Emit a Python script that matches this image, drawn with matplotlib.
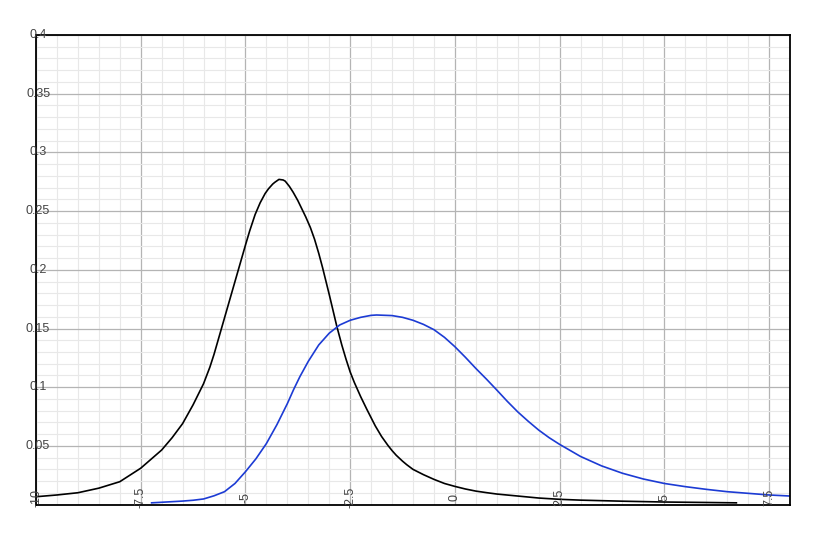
import matplotlib
matplotlib.use("Agg")
import matplotlib.pyplot as plt
from matplotlib.ticker import MultipleLocator
from matplotlib.transforms import blended_transform_factory, offset_copy

# values
black_x = [-10, -9.5, -9, -8.5, -8, -7.5, -7, -6.75, -6.5, -6.25, -6, -5.85,
           -5.75, -5.5, -5.25, -5, -4.9, -4.77, -4.65, -4.53, -4.45, -4.35,
           -4.3, -4.2, -4.1, -4.05, -3.95, -3.86, -3.75, -3.56, -3.45, -3.35,
           -3.25, -3.16, -3, -2.9, -2.82, -2.7, -2.6, -2.5, -2.4, -2.25, -2.1,
           -2, -1.9, -1.75, -1.6, -1.5, -1.4, -1.25, -1.15, -1, -0.75, -0.5,
           -0.25, 0, 0.25, 0.5, 0.75, 1, 1.5, 2, 2.5, 3, 4, 5, 6, 6.72]
black_y = [0.0067, 0.0082, 0.0101, 0.014, 0.0195, 0.031, 0.0465, 0.057, 0.069,
           0.085, 0.103, 0.117, 0.128, 0.159, 0.190, 0.221, 0.233, 0.247, 0.257,
           0.265, 0.269, 0.273, 0.2745, 0.277, 0.2765, 0.2755, 0.271, 0.266,
           0.259, 0.245, 0.236, 0.226, 0.214, 0.202, 0.179, 0.164, 0.152,
           0.136, 0.124, 0.113, 0.104, 0.092, 0.081, 0.074, 0.067, 0.058,
           0.0505, 0.046, 0.042, 0.037, 0.034, 0.030, 0.0255, 0.0215, 0.018,
           0.0155, 0.0133, 0.0115, 0.0102, 0.009, 0.0073, 0.0056, 0.0045,
           0.0038, 0.0029, 0.0022, 0.0018, 0.0015]

blue_x = [-7.24, -6.5, -6.25, -6, -5.75, -5.5, -5.25, -5, -4.75, -4.5, -4.25,
          -4, -3.85, -3.7, -3.5, -3.25, -3, -2.75, -2.5, -2.25, -2, -1.87,
          -1.5, -1.25, -1, -0.75, -0.5, -0.25, 0, 0.25, 0.5, 0.75, 1, 1.25,
          1.5, 1.75, 2, 2.25, 2.5, 3, 3.5, 4, 4.5, 5, 5.5, 6, 6.5, 7, 7.5, 8]
blue_y = [0.0015, 0.003, 0.0037, 0.0048, 0.0075, 0.011, 0.018, 0.028, 0.039,
          0.052, 0.068, 0.086, 0.098, 0.109, 0.122, 0.136, 0.146, 0.153, 0.157,
          0.1595, 0.1612, 0.1615, 0.161, 0.1595, 0.157, 0.1535, 0.149, 0.1425,
          0.1345, 0.1255, 0.116, 0.107, 0.0976, 0.088, 0.079, 0.071, 0.0635,
          0.057, 0.0513, 0.041, 0.033, 0.0267, 0.0218, 0.018, 0.0153, 0.013,
          0.011, 0.0096, 0.0082, 0.0073]

x_ticks = [-10, -7.5, -5, -2.5, 0, 2.5, 5, 7.5]
x_labels = ["-10", "-7.5", "-5", "-2.5", "0", "2.5", "5", "7.5"]
y_ticks = [0.05, 0.1, 0.15, 0.2, 0.25, 0.3, 0.35, 0.4]
y_labels = ["0.05", "0.1", "0.15", "0.2", "0.25", "0.3", "0.35", "0.4"]

plt.rcParams['font.family'] = ['Liberation Sans', 'DejaVu Sans']

fig = plt.figure(figsize=(8.26, 5.39), dpi=100)
ax = fig.add_axes([36 / 826, (539 - 504.6) / 539, 754 / 826, 469.6 / 539])

ax.plot(black_x, black_y, color='black', lw=1.2)
ax.plot(blue_x, blue_y, color='#1c3bd4', lw=1.2)

ax.set_xlim(-10, 8)
ax.set_ylim(0, 0.4)

# grid
ax.xaxis.set_major_locator(MultipleLocator(2.5))
ax.xaxis.set_minor_locator(MultipleLocator(0.5))
ax.yaxis.set_major_locator(MultipleLocator(0.05))
ax.yaxis.set_minor_locator(MultipleLocator(0.01))
ax.grid(True, which='major', color='#b4b4b4', lw=0.9)
ax.grid(True, which='minor', color='#e8e8e8', lw=0.8)
ax.set_axisbelow(True)
ax.tick_params(which='both', length=0, labelbottom=False, labelleft=False)

for s in ax.spines.values():
    s.set_color('black')
    s.set_linewidth(1.3)

# tick labels drawn inside the plot
tr_x = offset_copy(blended_transform_factory(ax.transData, ax.transAxes),
                   fig=fig, x=0, y=5, units='points')
for v, t in zip(x_ticks, x_labels):
    ax.text(v, 0, t, transform=tr_x, rotation=90, ha='center', va='center',
            fontsize=9, color='#444444')

tr_y = offset_copy(blended_transform_factory(ax.transAxes, ax.transData),
                   fig=fig, x=1.5, y=0, units='points')
for v, t in zip(y_ticks, y_labels):
    ax.text(0, v, t, transform=tr_y, ha='center', va='center',
            fontsize=9, color='#444444')

fig.savefig("out.png", dpi=100)
